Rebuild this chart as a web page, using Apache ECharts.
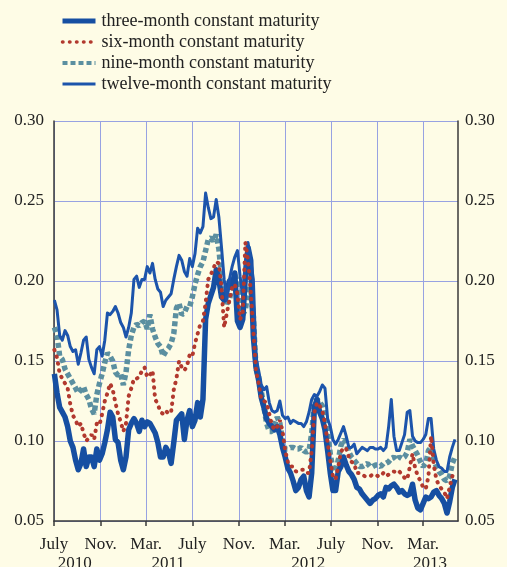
<!DOCTYPE html>
<html>
<head>
<meta charset="utf-8">
<script src="https://cdn.jsdelivr.net/npm/echarts@6/dist/echarts.min.js"></script>
<style>
  html, body { margin: 0; padding: 0; background: #fefce6; }
  #chart { width: 507px; height: 567px; }
</style>
</head>
<body>
<div id="chart"></div>
<script>
  // weekly readings, first one on 2 July 2010
  const startDate = '2010-07-02'
  const stepDays = 7

  const threeMonth = [
    0.142, 0.130, 0.121, 0.118, 0.115, 0.109, 0.100, 0.096, 0.088, 0.082,
    0.086, 0.095, 0.084, 0.090, 0.090, 0.084, 0.095, 0.088, 0.092, 0.099,
    0.107, 0.118, 0.115, 0.101, 0.099, 0.088, 0.082, 0.090, 0.107, 0.111,
    0.114, 0.111, 0.106, 0.113, 0.109, 0.112, 0.111, 0.108, 0.105, 0.099,
    0.090, 0.090, 0.096, 0.093, 0.086, 0.099, 0.113, 0.115, 0.117, 0.101,
    0.113, 0.119, 0.109, 0.113, 0.124, 0.115, 0.126, 0.176, 0.186, 0.191,
    0.196, 0.207, 0.201, 0.190, 0.188, 0.194, 0.200, 0.196, 0.205, 0.175,
    0.171, 0.176, 0.203, 0.221, 0.213, 0.165,
    0.146, 0.138, 0.127, 0.121, 0.114, 0.111, 0.109, 0.107, 0.109, 0.104,
    0.096, 0.090, 0.083, 0.080, 0.075, 0.069, 0.071, 0.076, 0.078, 0.069,
    0.065, 0.080, 0.121, 0.126, 0.118, 0.114, 0.107, 0.094, 0.080, 0.069,
    0.069, 0.081, 0.084, 0.090, 0.085, 0.081, 0.079, 0.076, 0.071, 0.070,
    0.067, 0.065, 0.063, 0.061, 0.063, 0.064, 0.066, 0.067, 0.065, 0.071,
    0.070, 0.072, 0.073, 0.071, 0.068, 0.069, 0.067, 0.066, 0.067, 0.073,
    0.063, 0.058, 0.057, 0.061, 0.065, 0.064, 0.065, 0.068, 0.069, 0.066,
    0.064, 0.061, 0.055, 0.062, 0.071, 0.076
  ]
  const sixMonth = [
    0.157, 0.152, 0.142, 0.139, 0.136, 0.133, 0.123, 0.116, 0.113, 0.109,
    0.111, 0.105, 0.100, 0.102, 0.104, 0.101, 0.111, 0.110, 0.117, 0.125,
    0.130, 0.136, 0.132, 0.124, 0.117, 0.112, 0.106, 0.111, 0.128, 0.133,
    0.139, 0.139, 0.140, 0.144, 0.146, 0.140, 0.141, 0.144, 0.126, 0.123,
    0.118, 0.117, 0.119, 0.117, 0.118, 0.132, 0.139, 0.150, 0.146, 0.144,
    0.147, 0.154, 0.153, 0.161, 0.167, 0.173, 0.175, 0.186, 0.201, 0.204,
    0.208, 0.212, 0.211, 0.196, 0.171, 0.180, 0.188, 0.196, 0.198, 0.192,
    0.176, 0.180, 0.224, 0.213, 0.194, 0.169,
    0.144, 0.136, 0.126, 0.125, 0.124, 0.117, 0.110, 0.107, 0.109, 0.113,
    0.106, 0.094, 0.087, 0.084, 0.084, 0.081, 0.081, 0.082, 0.082, 0.080,
    0.080, 0.094, 0.118, 0.124, 0.122, 0.119, 0.111, 0.099, 0.088, 0.078,
    0.076, 0.084, 0.093, 0.096, 0.095, 0.090, 0.087, 0.086, 0.080, 0.080,
    0.079, 0.078, 0.078, 0.078, 0.079, 0.079, 0.078, 0.078, 0.080, 0.078,
    0.079, 0.080, 0.081, 0.080, 0.081, 0.079, 0.077, 0.076, 0.084, 0.092,
    0.083, 0.078, 0.075, 0.071, 0.070, 0.078, 0.103, 0.085, 0.076, 0.072,
    0.070, 0.068, 0.064, 0.071, 0.078, 0.081
  ]
  const nineMonth = [
    0.171, 0.166, 0.153, 0.151, 0.145, 0.142, 0.139, 0.136, 0.133, 0.130,
    0.132, 0.134, 0.129, 0.126, 0.120, 0.117, 0.129, 0.136, 0.142, 0.149,
    0.155, 0.153, 0.150, 0.143, 0.141, 0.142, 0.135, 0.143, 0.157, 0.166,
    0.171, 0.173, 0.172, 0.174, 0.175, 0.170, 0.179, 0.170, 0.165, 0.161,
    0.159, 0.153, 0.156, 0.158, 0.161, 0.167, 0.183, 0.186, 0.179, 0.180,
    0.184, 0.184, 0.190, 0.198, 0.204, 0.209, 0.212, 0.219, 0.226, 0.227,
    0.225, 0.229, 0.220, 0.203, 0.191, 0.186, 0.188, 0.199, 0.204, 0.199,
    0.189, 0.179, 0.182, 0.194, 0.196, 0.178,
    0.145, 0.140, 0.131, 0.121, 0.111, 0.106, 0.106, 0.110, 0.115, 0.111,
    0.100, 0.095, 0.095, 0.096, 0.096, 0.095, 0.095, 0.096, 0.094, 0.093,
    0.094, 0.105, 0.124, 0.126, 0.124, 0.122, 0.115, 0.105, 0.092, 0.082,
    0.081, 0.088, 0.097, 0.101, 0.099, 0.093, 0.090, 0.088, 0.086, 0.084,
    0.084, 0.085, 0.086, 0.084, 0.084, 0.085, 0.085, 0.084, 0.086, 0.086,
    0.087, 0.089, 0.090, 0.088, 0.090, 0.089, 0.090, 0.093, 0.101, 0.097,
    0.094, 0.091, 0.087, 0.084, 0.086, 0.094, 0.096, 0.089, 0.084, 0.081,
    0.079, 0.076, 0.075, 0.078, 0.086, 0.090
  ]
  const twelveMonth = [
    0.188, 0.182, 0.166, 0.163, 0.169, 0.166, 0.159, 0.156, 0.157, 0.148,
    0.155, 0.163, 0.165, 0.151, 0.146, 0.142, 0.157, 0.159, 0.153, 0.163,
    0.180, 0.179, 0.181, 0.184, 0.180, 0.174, 0.171, 0.165, 0.171, 0.180,
    0.201, 0.203, 0.196, 0.201, 0.201, 0.209, 0.205, 0.211, 0.201, 0.195,
    0.193, 0.184, 0.188, 0.190, 0.192, 0.201, 0.209, 0.216, 0.213, 0.206,
    0.203, 0.214, 0.209, 0.217, 0.233, 0.230, 0.234, 0.255, 0.246, 0.239,
    0.240, 0.251, 0.240, 0.221, 0.201, 0.188, 0.201, 0.209, 0.215, 0.219,
    0.203, 0.190, 0.211, 0.224, 0.213, 0.201,
    0.152, 0.144, 0.135, 0.132, 0.134, 0.124, 0.119, 0.118, 0.119, 0.125,
    0.116, 0.114, 0.115, 0.111, 0.113, 0.112, 0.111, 0.111, 0.109, 0.112,
    0.118, 0.126, 0.129, 0.128, 0.131, 0.135, 0.133, 0.114, 0.109, 0.101,
    0.098, 0.101, 0.105, 0.109, 0.103, 0.096, 0.096, 0.098, 0.092, 0.094,
    0.096, 0.095, 0.094, 0.096, 0.096, 0.095, 0.095, 0.096, 0.094, 0.096,
    0.109, 0.126, 0.103, 0.094, 0.094, 0.099, 0.104, 0.118, 0.119, 0.103,
    0.100, 0.099, 0.099, 0.101, 0.104, 0.114, 0.114, 0.095, 0.088, 0.084,
    0.083, 0.081, 0.081, 0.090, 0.096, 0.101
  ]

  const monthTicks = ['2010-07-01', '2010-11-01', '2011-03-01', '2011-07-01', '2011-11-01',
    '2012-03-01', '2012-07-01', '2012-11-01', '2013-03-01']
  const monthNames = { 2: 'Mar.', 6: 'July', 10: 'Nov.' }
  const yearLabels = ['2010', '2011', '2012', '2013']
  const yearDates = ['2010-08-25', '2011-04-28', '2012-05-02', '2013-03-19']

  const names = [
    'three-month constant maturity',
    'six-month constant maturity',
    'nine-month constant maturity',
    'twelve-month constant maturity'
  ]

  function toTime(s) {
    const p = s.split('-')
    return new Date(+p[0], +p[1] - 1, +p[2]).getTime()
  }

  const t0 = toTime(startDate)
  const dates = threeMonth.map((v, i) => t0 + i * stepDays * 86400000)
  const pairs = vals => dates.map((d, i) => [d, vals[i]])
  const xMin = toTime('2010-07-01')
  const xMax = toTime('2013-06-01')
  const monthTimes = monthTicks.map(toTime)
  const yearTimes = yearDates.map(toTime)

  const serif = 'Liberation Serif'
  const textColor = '#222'
  const gridBlue = '#97a2e2'
  const axisColor = '#3a3a3a'

  const styles = {
    three: { color: '#164fa2', width: 5.5, join: 'round' },
    six: { color: '#b2392e', width: 4, type: [0.5, 6.5], cap: 'round' },
    nine: { color: '#5b8fa0', width: 5.5, type: [5, 3] },
    twelve: { color: '#1c54ab', width: 3, join: 'round' }
  }

  const ec = echarts.init(document.getElementById('chart'))
  ec.setOption({
    animation: false,
    backgroundColor: '#fefce6',
    legend: {
      data: [
        { name: names[0], lineStyle: { width: 5 } },
        { name: names[1], lineStyle: { width: 3.5 } },
        { name: names[2], lineStyle: { width: 4 } },
        { name: names[3], lineStyle: { width: 3 } }
      ],
      orient: 'vertical',
      left: 55,
      top: 7,
      itemWidth: 33,
      itemHeight: 14,
      itemGap: 3,
      itemStyle: { opacity: 0 },
      textStyle: {
        fontFamily: serif,
        fontSize: 18,
        lineHeight: 18,
        color: textColor,
        padding: [0, 0, 0, 1]
      }
    },
    grid: {
      left: 54,
      right: 49,
      top: 121,
      bottom: 46,
      outerBoundsMode: 'none'
    },
    xAxis: [
      {
        type: 'value',
        min: xMin,
        max: xMax,
        axisLine: { lineStyle: { color: axisColor, width: 1.5 } },
        axisTick: {
          show: true,
          length: 5,
          customValues: monthTimes,
          lineStyle: { color: axisColor, width: 1.5 }
        },
        axisLabel: {
          customValues: monthTimes,
          margin: 15,
          fontFamily: serif,
          fontSize: 17,
          color: textColor,
          formatter: function (v) {
            return monthNames[new Date(v).getMonth()]
          }
        },
        splitLine: {
          show: true,
          lineStyle: { color: gridBlue, width: 1 }
        }
      },
      {
        type: 'value',
        position: 'bottom',
        min: xMin,
        max: xMax,
        axisLine: { show: false },
        axisTick: { show: false },
        splitLine: { show: false },
        axisLabel: {
          customValues: yearTimes,
          margin: 34,
          fontFamily: serif,
          fontSize: 17,
          color: textColor,
          formatter: function (v) {
            return yearLabels[yearTimes.indexOf(v)]
          }
        }
      }
    ],
    yAxis: [
      {
        type: 'value',
        position: 'left',
        min: 0.05,
        max: 0.30,
        interval: 0.05,
        axisLine: { show: true, lineStyle: { color: axisColor, width: 1.5 } },
        axisTick: { show: false },
        axisLabel: {
          margin: 10,
          fontFamily: serif,
          fontSize: 17,
          color: textColor,
          formatter: v => v.toFixed(2)
        },
        splitLine: { lineStyle: { color: gridBlue, width: 1 } }
      },
      {
        type: 'value',
        position: 'right',
        min: 0.05,
        max: 0.30,
        interval: 0.05,
        axisLine: { show: true, lineStyle: { color: axisColor, width: 1.5 } },
        axisTick: { show: false },
        axisLabel: {
          margin: 7,
          fontFamily: serif,
          fontSize: 17,
          color: textColor,
          formatter: v => v.toFixed(2)
        },
        splitLine: { show: false }
      }
    ],
    series: [
      {
        name: names[2],
        type: 'line',
        symbol: 'none',
        data: pairs(nineMonth),
        lineStyle: styles.nine,
        itemStyle: { color: styles.nine.color }
      },
      {
        name: names[0],
        type: 'line',
        symbol: 'none',
        data: pairs(threeMonth),
        lineStyle: styles.three,
        itemStyle: { color: styles.three.color }
      },
      {
        name: names[3],
        type: 'line',
        symbol: 'none',
        data: pairs(twelveMonth),
        lineStyle: styles.twelve,
        itemStyle: { color: styles.twelve.color }
      },
      {
        name: names[1],
        type: 'line',
        symbol: 'none',
        data: pairs(sixMonth),
        lineStyle: styles.six,
        itemStyle: { color: styles.six.color }
      }
    ]
  })
  window.addEventListener('resize', ec.resize)
</script>
</body>
</html>
